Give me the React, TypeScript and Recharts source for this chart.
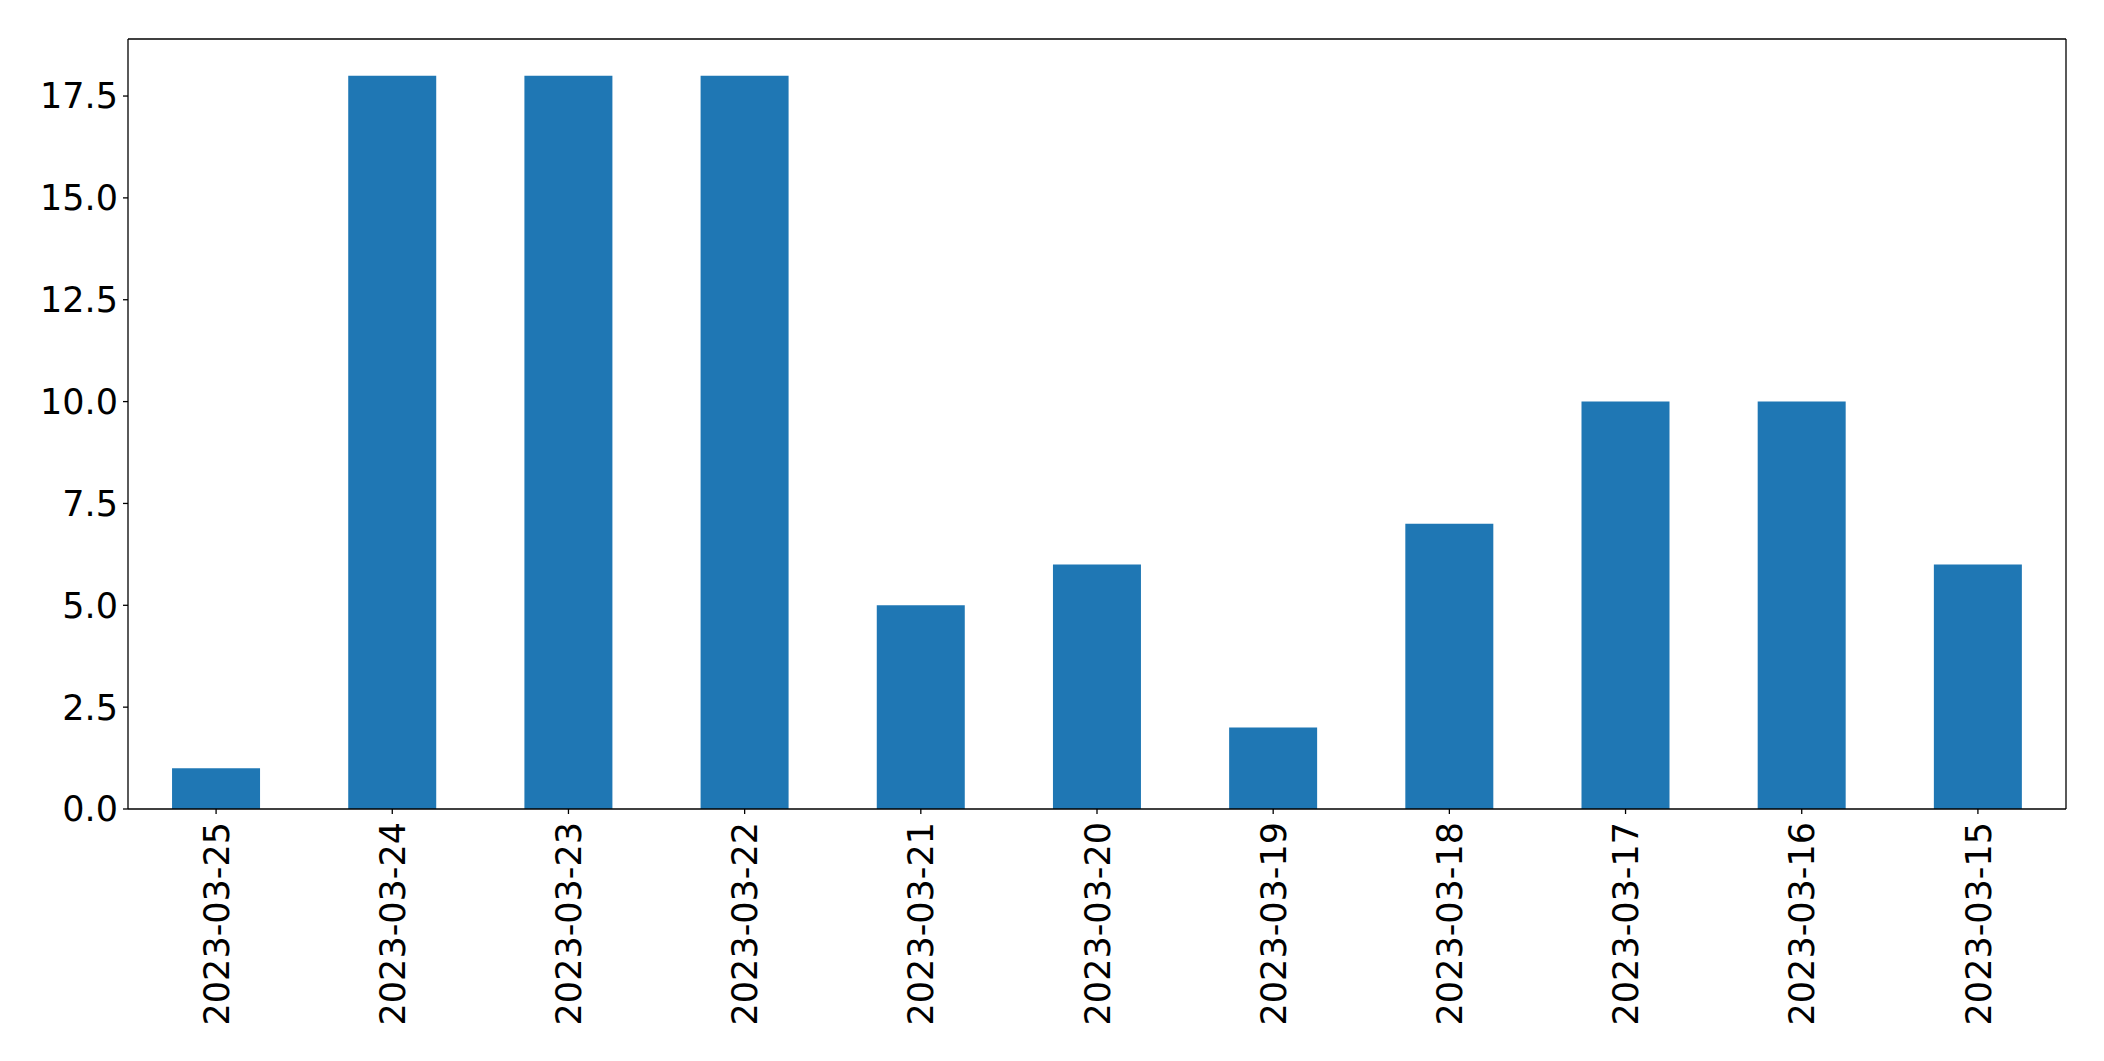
import { BarChart, Bar, XAxis, YAxis, ReferenceLine } from "recharts";

const dates = [
  "2023-03-25",
  "2023-03-24",
  "2023-03-23",
  "2023-03-22",
  "2023-03-21",
  "2023-03-20",
  "2023-03-19",
  "2023-03-18",
  "2023-03-17",
  "2023-03-16",
  "2023-03-15",
];
const counts = [1, 18, 18, 18, 5, 6, 2, 7, 10, 10, 6];
const yTicks = [0, 2.5, 5, 7.5, 10, 12.5, 15, 17.5];
const yMax = 18.9;

const data = dates.map((d, i) => ({ date: d, count: counts[i] }));

const FONT = "DejaVu Sans";
const axisStyle = { stroke: "#000", strokeWidth: 1.3 };

const DateTick = ({ x, y, payload }: any) => (
  <text
    x={x}
    y={y}
    transform={`rotate(-90, ${x}, ${y})`}
    textAnchor="end"
    dy="0.36em"
    fontSize={35}
    fontFamily={FONT}
    fill="#000"
  >
    {payload.value}
  </text>
);

export default function App() {
  return (
    <div style={{ position: "absolute", left: 0, top: 0, background: "#fff" }}>
      <BarChart
        width={2104}
        height={1061}
        data={data}
        margin={{ top: 38, right: 37, bottom: 0, left: 0 }}
        barCategoryGap="25%"
      >
        <XAxis
          dataKey="date"
          height={252}
          interval={0}
          tick={<DateTick />}
          tickSize={5}
          tickMargin={8}
          axisLine={axisStyle}
          tickLine={axisStyle}
        />
        <XAxis
          xAxisId="top"
          dataKey="date"
          orientation="top"
          height={1}
          tick={false}
          tickLine={false}
          axisLine={axisStyle}
        />
        <YAxis
          width={128}
          domain={[0, yMax]}
          ticks={yTicks}
          interval={0}
          tickFormatter={(v: number) => v.toFixed(1)}
          tickSize={5}
          tickMargin={5}
          tick={{ fontSize: 35, fontFamily: FONT, fill: "#000" }}
          axisLine={axisStyle}
          tickLine={axisStyle}
        />
        <YAxis
          yAxisId="right"
          orientation="right"
          width={1}
          domain={[0, yMax]}
          tick={false}
          tickLine={false}
          axisLine={axisStyle}
        />
        <Bar dataKey="count" fill="#1f77b4" isAnimationActive={false} />
        <ReferenceLine
          y={yMax}
          xAxisId="top"
          yAxisId="right"
          stroke="#000"
          strokeWidth={1.3}
        />
      </BarChart>
    </div>
  );
}
